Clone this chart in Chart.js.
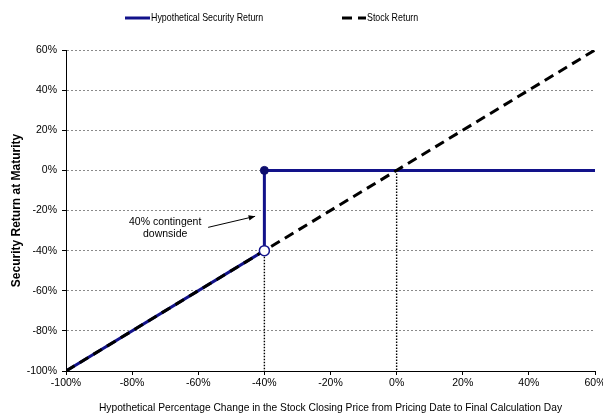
<!DOCTYPE html>
<html lang="en">
<head>
<meta charset="UTF-8">
<title>Security Return at Maturity</title>
<style>
  * { margin: 0; padding: 0; box-sizing: border-box; }
  body { background: #fff; width: 603px; height: 417px; overflow: hidden; }
  .wrap { position: relative; width: 603px; height: 417px; }
</style>
</head>
<body>
<div class="wrap"><canvas id="payoffChart"></canvas></div>
<script src="https://cdn.jsdelivr.net/npm/chart.js"></script>
<script>
// percentage change in stock price (x) and the resulting return (y)
const securityX = [-100, -40, -40, 60];
const securityY = [-100, -40, 0, 0];
const stockX = [-100, 60];
const stockY = [-100, 60];
// dotted guides dropped down to the x axis
const guideX = [-40, 0];
const guideY = [-40, 0];
// barrier points
const openDotX = [-40], openDotY = [-40];
const filledDotX = [-40], filledDotY = [0];

const axisMin = -100, axisMax = 60, tickStep = 20;
const seriesNames = ['Hypothetical Security Return', 'Stock Return'];
const xTitle = 'Hypothetical Percentage Change in the Stock Closing Price from Pricing Date to Final Calculation Day';
const yTitle = 'Security Return at Maturity';
const noteLines = ['40% contingent', 'downside'];

const NAVY = '#12128a';
const FONT = "'Liberation Sans', Arial, sans-serif";

const pts = (xs, ys) => xs.map((x, i) => ({ x: x, y: ys[i] }));

const datasets = [
    { label: 'open', data: pts(openDotX, openDotY), showLine: false,
      pointRadius: 5, pointBackgroundColor: '#fff', pointBorderColor: NAVY, pointBorderWidth: 1.5 },
    { label: 'filled', data: pts(filledDotX, filledDotY), showLine: false,
      pointRadius: 4, pointBackgroundColor: '#0d0d6e', pointBorderColor: '#0d0d6e' },
    { label: seriesNames[1], data: pts(stockX, stockY), showLine: true,
      borderColor: '#000', borderWidth: 3, borderDash: [10, 6], pointRadius: 0 },
    { label: seriesNames[0], data: pts(securityX, securityY), showLine: true,
      borderColor: NAVY, borderWidth: 3, pointRadius: 0 }
];
guideX.forEach((gx, i) => {
    datasets.push({ label: 'guide', data: pts([gx, gx], [guideY[i], axisMin]), showLine: true,
        borderColor: '#000', borderWidth: 1.4, borderDash: [1.5, 1.5], pointRadius: 0 });
});

// legend drawn by hand so the two entries sit far apart like the original
const legendPlugin = {
    id: 'wideLegend',
    afterDraw(chart) {
        const ctx = chart.ctx;
        const y = 18;
        const items = [
            { ds: datasets[3], x: 125, w: 25 },
            { ds: datasets[2], x: 342, w: 24 }
        ];
        ctx.save();
        ctx.font = '11.5px ' + FONT;
        ctx.textBaseline = 'middle';
        ctx.fillStyle = '#000';
        items.forEach(it => {
            ctx.strokeStyle = it.ds.borderColor;
            ctx.lineWidth = 3;
            ctx.setLineDash(it.ds.borderDash ? [10, 6] : []);
            ctx.beginPath();
            ctx.moveTo(it.x, y);
            ctx.lineTo(it.x + it.w, y);
            ctx.stroke();
            // the original type is a narrow face, squeeze it a bit
            ctx.save();
            ctx.translate(it.x + it.w + 1, y);
            ctx.scale(0.77, 1);
            ctx.fillText(it.ds.label, 0, 0);
            ctx.restore();
        });
        ctx.restore();
    }
};

// text note with arrow pointing at the jump
const notePlugin = {
    id: 'note',
    afterDatasetsDraw(chart) {
        const { ctx, scales: { x, y } } = chart;
        ctx.save();
        ctx.font = '10.5px ' + FONT;
        ctx.fillStyle = '#000';
        ctx.textAlign = 'center';
        ctx.textBaseline = 'middle';
        const cx = x.getPixelForValue(-70);
        ctx.fillText(noteLines[0], cx, y.getPixelForValue(-25.8));
        ctx.fillText(noteLines[1], cx, y.getPixelForValue(-31.8));
        const x1 = x.getPixelForValue(-57), y1 = y.getPixelForValue(-28.4);
        const x2 = x.getPixelForValue(-42.8), y2 = y.getPixelForValue(-22.9);
        ctx.strokeStyle = '#000';
        ctx.lineWidth = 1;
        ctx.beginPath();
        ctx.moveTo(x1, y1);
        ctx.lineTo(x2, y2);
        ctx.stroke();
        const a = Math.atan2(y2 - y1, x2 - x1);
        ctx.beginPath();
        ctx.moveTo(x2, y2);
        ctx.lineTo(x2 - 7 * Math.cos(a - 0.4), y2 - 7 * Math.sin(a - 0.4));
        ctx.lineTo(x2 - 7 * Math.cos(a + 0.4), y2 - 7 * Math.sin(a + 0.4));
        ctx.closePath();
        ctx.fill();
        ctx.restore();
    }
};

const pct = v => v + '%';

new Chart(document.getElementById('payoffChart'), {
    type: 'scatter',
    data: { datasets: datasets },
    options: {
        responsive: true,
        maintainAspectRatio: false,
        animation: false,
        layout: { padding: { top: 50, right: 8, bottom: 0, left: 0 } },
        plugins: {
            legend: { display: false },
            tooltip: { enabled: false }
        },
        scales: {
            x: {
                type: 'linear',
                min: axisMin, max: axisMax,
                ticks: { stepSize: tickStep, callback: pct, color: '#000', padding: 2,
                         maxRotation: 0, font: { family: FONT, size: 10.5 } },
                grid: { drawOnChartArea: false, tickLength: 4, tickColor: '#000' },
                border: { color: '#000', width: 1 },
                title: { display: true, text: xTitle, color: '#000',
                         font: { family: FONT, size: 10.25 }, padding: { top: 0, bottom: 3 } },
                afterFit(s) { s.height = 46; s.paddingLeft = 0; s.paddingRight = 0; }
            },
            y: {
                type: 'linear',
                min: axisMin, max: axisMax,
                ticks: { stepSize: tickStep, callback: pct, color: '#000', padding: 5,
                         font: { family: FONT, size: 10.5 } },
                grid: { color: '#8a8a8a', lineWidth: 1, tickLength: 4, tickColor: '#000' },
                border: { color: '#000', width: 1, dash: [2, 2] },
                title: { display: true, text: yTitle, color: '#000',
                         font: { family: FONT, size: 12, weight: 'bold' }, padding: { top: 9, bottom: 0 } },
                afterFit(s) { s.width = 66; }
            }
        }
    },
    plugins: [legendPlugin, notePlugin]
});
</script>
</body>
</html>
